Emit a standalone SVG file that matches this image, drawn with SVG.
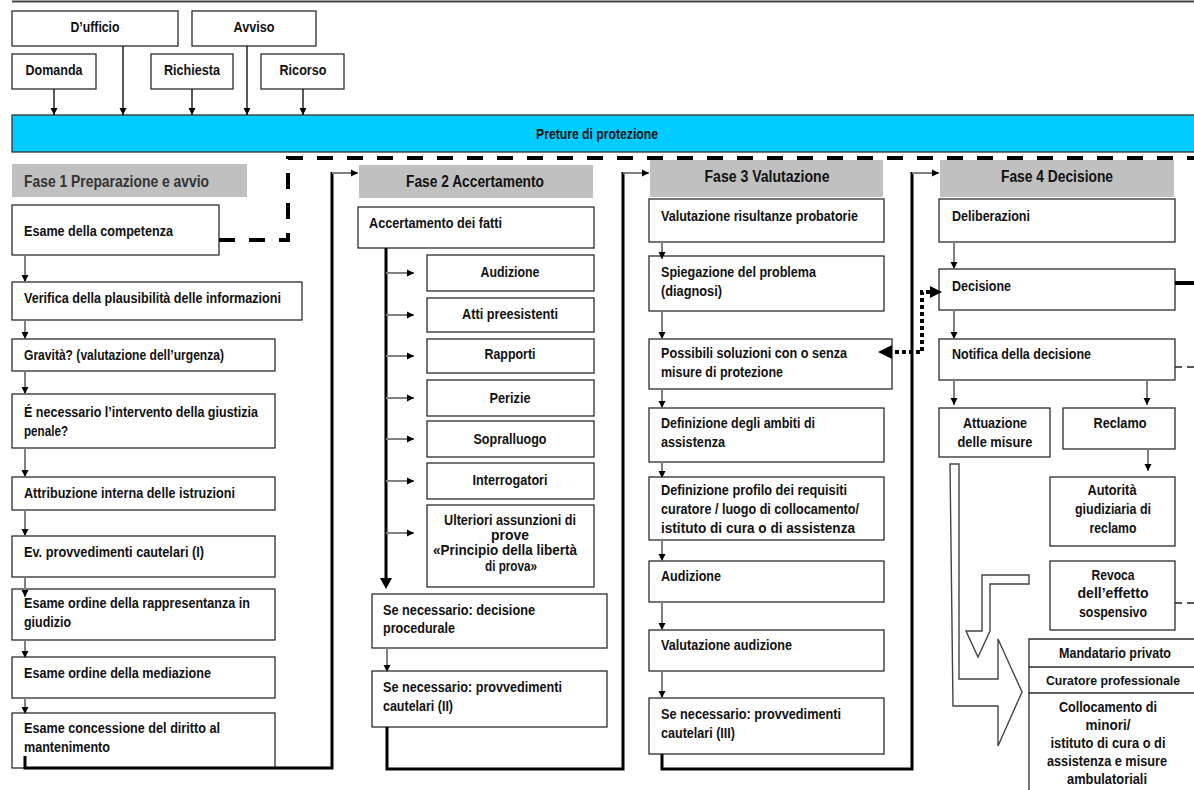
<svg xmlns="http://www.w3.org/2000/svg" width="1194" height="790" viewBox="0 0 1194 790">
<defs>
<marker id="ah" markerUnits="userSpaceOnUse" markerWidth="8" markerHeight="8" refX="7" refY="4" orient="auto"><path d="M0,0.5 L7,4 L0,7.5 z" fill="#000"/></marker>
<style>
.b{fill:#fff;stroke:#2b2b2b;stroke-width:1.3}
.ob{fill:none;stroke:#2b2b2b;stroke-width:1.3}
.h{fill:#c0c0c0}
text{font-family:"Liberation Sans Narrow","Liberation Sans",Arial,sans-serif;font-weight:bold;font-size:14.5px;fill:#111}
.hd{font-size:16px}
.c{text-anchor:middle}
.ga{stroke:#808080;stroke-width:2;fill:none;marker-end:url(#ah)}
.ka{stroke:#000;stroke-width:1.3;fill:none;marker-end:url(#ah)}
.thick{stroke:#000;stroke-width:3;fill:none}
.open{fill:#fff;stroke:#444;stroke-width:1.4}
</style>
</defs>
<rect width="1194" height="790" fill="#fff"/>
<line x1="12" y1="1.5" x2="1194" y2="1.5" stroke="#444" stroke-width="2"/>

<g id="sources">
<g id="n-dufficio"><rect class="b" x="12" y="11" width="166" height="35"/><text class="c" x="95" y="32" textLength="49" lengthAdjust="spacingAndGlyphs">D’ufficio</text></g>
<g id="n-avviso"><rect class="b" x="192" y="11" width="124" height="35"/><text class="c" x="254" y="32" textLength="41" lengthAdjust="spacingAndGlyphs">Avviso</text></g>
<g id="n-domanda"><rect class="b" x="12" y="54" width="84" height="35"/><text class="c" x="54" y="75" textLength="57" lengthAdjust="spacingAndGlyphs">Domanda</text></g>
<g id="n-richiesta"><rect class="b" x="151" y="54" width="82" height="35"/><text class="c" x="192" y="75" textLength="56" lengthAdjust="spacingAndGlyphs">Richiesta</text></g>
<g id="n-ricorso"><rect class="b" x="261" y="54" width="83" height="35"/><text class="c" x="303" y="75" textLength="47" lengthAdjust="spacingAndGlyphs">Ricorso</text></g>
</g>

<g id="n-preture"><rect x="12" y="115" width="1186" height="37" fill="#00ccff" stroke="#333" stroke-width="1.3"/><text class="c" x="597" y="139" textLength="122" lengthAdjust="spacingAndGlyphs">Preture di protezione</text></g>

<g id="fase1">
<g id="h-fase1"><rect class="h" x="12" y="164" width="235" height="33"/><text class="hd" x="24" y="187" textLength="185" lengthAdjust="spacingAndGlyphs" style="fill:#333">Fase 1 Preparazione e avvio</text></g>
<g id="n-competenza"><rect class="b" x="12" y="205" width="207" height="50"/><text x="24" y="236" textLength="149" lengthAdjust="spacingAndGlyphs">Esame della competenza</text></g>
<g id="n-verifica"><rect class="b" x="12" y="282" width="290" height="38"/><text x="24" y="303" textLength="257" lengthAdjust="spacingAndGlyphs">Verifica della plausibilità delle informazioni</text></g>
<g id="n-gravita"><rect class="b" x="12" y="339" width="263" height="32"/><text x="24" y="360" textLength="200" lengthAdjust="spacingAndGlyphs">Gravità? (valutazione dell’urgenza)</text></g>
<g id="n-penale"><rect class="b" x="12" y="394" width="263" height="54"/><text x="24" y="417" textLength="234" lengthAdjust="spacingAndGlyphs">É necessario l’intervento della giustizia</text><text x="24" y="436" textLength="44" lengthAdjust="spacingAndGlyphs">penale?</text></g>
<g id="n-attribuzione"><rect class="b" x="12" y="477" width="263" height="33"/><text x="24" y="498" textLength="211" lengthAdjust="spacingAndGlyphs">Attribuzione interna delle istruzioni</text></g>
<g id="n-cautelari1"><rect class="b" x="12" y="536" width="263" height="41"/><text x="24" y="557" textLength="180" lengthAdjust="spacingAndGlyphs">Ev. provvedimenti cautelari (I)</text></g>
<g id="n-rappresentanza"><rect class="b" x="12" y="589" width="263" height="51"/><text x="24" y="608" textLength="226" lengthAdjust="spacingAndGlyphs">Esame ordine della rappresentanza in</text><text x="24" y="627" textLength="47" lengthAdjust="spacingAndGlyphs">giudizio</text></g>
<g id="n-mediazione"><rect class="b" x="12" y="657" width="263" height="41"/><text x="24" y="678" textLength="187" lengthAdjust="spacingAndGlyphs">Esame ordine della mediazione</text></g>
<g id="n-mantenimento"><rect class="b" x="12" y="713" width="263" height="55"/><text x="24" y="733" textLength="196" lengthAdjust="spacingAndGlyphs">Esame concessione del diritto al</text><text x="24" y="752" textLength="86" lengthAdjust="spacingAndGlyphs">mantenimento</text></g>
</g>

<g id="fase2">
<g id="h-fase2"><rect class="h" x="359" y="165" width="234" height="33"/><text class="hd c" x="475" y="187" textLength="138" lengthAdjust="spacingAndGlyphs">Fase 2 Accertamento</text></g>
<g id="n-accertamento"><rect class="b" x="358" y="207" width="236" height="41"/><text x="369" y="228" textLength="133" lengthAdjust="spacingAndGlyphs">Accertamento dei fatti</text></g>
<g id="n-audizione2"><rect class="b" x="427" y="255" width="167" height="36"/><text class="c" x="510" y="277" textLength="59" lengthAdjust="spacingAndGlyphs">Audizione</text></g>
<g id="n-atti"><rect class="b" x="427" y="298" width="167" height="34"/><text class="c" x="510" y="319" textLength="96" lengthAdjust="spacingAndGlyphs">Atti preesistenti</text></g>
<g id="n-rapporti"><rect class="b" x="427" y="339" width="167" height="34"/><text class="c" x="510" y="359" textLength="51" lengthAdjust="spacingAndGlyphs">Rapporti</text></g>
<g id="n-perizie"><rect class="b" x="427" y="380" width="167" height="36"/><text class="c" x="510" y="403" textLength="41" lengthAdjust="spacingAndGlyphs">Perizie</text></g>
<g id="n-sopralluogo"><rect class="b" x="427" y="421" width="167" height="36"/><text class="c" x="510" y="444" textLength="73" lengthAdjust="spacingAndGlyphs">Sopralluogo</text></g>
<g id="n-interrogatori"><rect class="b" x="427" y="463" width="167" height="36"/><text class="c" x="510" y="485" textLength="75" lengthAdjust="spacingAndGlyphs">Interrogatori</text></g>
<g id="n-ulteriori"><rect class="b" x="427" y="505" width="167" height="82"/><text class="c" x="510" y="525" textLength="132" lengthAdjust="spacingAndGlyphs">Ulteriori assunzioni di</text><text class="c" x="510" y="540" textLength="38" lengthAdjust="spacingAndGlyphs">prove</text><text class="c" x="505" y="555" textLength="144" lengthAdjust="spacingAndGlyphs">«Principio della libertà</text><text class="c" x="511" y="571" textLength="52" lengthAdjust="spacingAndGlyphs">di prova»</text></g>
<g id="n-procedurale"><rect class="b" x="372" y="594" width="235" height="54"/><text x="383" y="615" textLength="152" lengthAdjust="spacingAndGlyphs">Se necessario: decisione</text><text x="383" y="633" textLength="72" lengthAdjust="spacingAndGlyphs">procedurale</text></g>
<g id="n-cautelari2"><rect class="b" x="372" y="671" width="235" height="56"/><text x="383" y="692" textLength="179" lengthAdjust="spacingAndGlyphs">Se necessario: provvedimenti</text><text x="383" y="711" textLength="70" lengthAdjust="spacingAndGlyphs">cautelari (II)</text></g>
</g>

<g id="fase3">
<g id="h-fase3"><rect class="h" x="650" y="160" width="233" height="37"/><text class="hd c" x="767" y="182" textLength="125" lengthAdjust="spacingAndGlyphs">Fase 3 Valutazione</text></g>
<g id="n-risultanze"><rect class="b" x="649" y="199" width="235" height="43"/><text x="661" y="221" textLength="197" lengthAdjust="spacingAndGlyphs">Valutazione risultanze probatorie</text></g>
<g id="n-spiegazione"><rect class="b" x="649" y="256" width="235" height="55"/><text x="661" y="277" textLength="155" lengthAdjust="spacingAndGlyphs">Spiegazione del problema</text><text x="661" y="296" textLength="61" lengthAdjust="spacingAndGlyphs">(diagnosi)</text></g>
<g id="n-soluzioni"><rect class="b" x="649" y="339" width="243" height="50"/><text x="661" y="358" textLength="186" lengthAdjust="spacingAndGlyphs">Possibili soluzioni con o senza</text><text x="661" y="377" textLength="122" lengthAdjust="spacingAndGlyphs">misure di protezione</text></g>
<g id="n-ambiti"><rect class="b" x="649" y="408" width="235" height="54"/><text x="661" y="428" textLength="154" lengthAdjust="spacingAndGlyphs">Definizione degli ambiti di</text><text x="661" y="447" textLength="64" lengthAdjust="spacingAndGlyphs">assistenza</text></g>
<g id="n-profilo"><rect class="b" x="649" y="477" width="235" height="63"/><text x="661" y="495" textLength="186" lengthAdjust="spacingAndGlyphs">Definizione profilo dei requisiti</text><text x="661" y="514" textLength="198" lengthAdjust="spacingAndGlyphs">curatore / luogo di collocamento/</text><text x="661" y="533" textLength="194" lengthAdjust="spacingAndGlyphs">istituto di cura o di assistenza</text></g>
<g id="n-audizione3"><rect class="b" x="649" y="561" width="235" height="41"/><text x="661" y="581" textLength="60" lengthAdjust="spacingAndGlyphs">Audizione</text></g>
<g id="n-valaudizione"><rect class="b" x="649" y="630" width="235" height="41"/><text x="661" y="650" textLength="131" lengthAdjust="spacingAndGlyphs">Valutazione audizione</text></g>
<g id="n-cautelari3"><rect class="b" x="649" y="698" width="235" height="56"/><text x="661" y="719" textLength="180" lengthAdjust="spacingAndGlyphs">Se necessario: provvedimenti</text><text x="661" y="738" textLength="74" lengthAdjust="spacingAndGlyphs">cautelari (III)</text></g>
</g>

<g id="fase4">
<g id="h-fase4"><rect class="h" x="940" y="160" width="234" height="37"/><text class="hd c" x="1057" y="182" textLength="112" lengthAdjust="spacingAndGlyphs">Fase 4 Decisione</text></g>
<g id="n-deliberazioni"><rect class="b" x="939" y="199" width="236" height="43"/><text x="952" y="221" textLength="78" lengthAdjust="spacingAndGlyphs">Deliberazioni</text></g>
<g id="n-decisione"><rect class="b" x="939" y="269" width="236" height="41"/><text x="952" y="291" textLength="59" lengthAdjust="spacingAndGlyphs">Decisione</text></g>
<g id="n-notifica"><rect class="b" x="939" y="339" width="236" height="41"/><text x="952" y="359" textLength="139" lengthAdjust="spacingAndGlyphs">Notifica della decisione</text></g>
<g id="n-attuazione"><rect class="b" x="939" y="408" width="111" height="49"/><text class="c" x="995" y="428" textLength="64" lengthAdjust="spacingAndGlyphs">Attuazione</text><text class="c" x="995" y="447" textLength="75" lengthAdjust="spacingAndGlyphs">delle misure</text></g>
<g id="n-reclamo"><rect class="b" x="1063" y="408" width="112" height="41"/><text class="c" x="1120" y="428" textLength="53" lengthAdjust="spacingAndGlyphs">Reclamo</text></g>
<g id="n-autorita"><rect class="b" x="1050" y="477" width="125" height="69"/><text class="c" x="1112" y="495" textLength="49" lengthAdjust="spacingAndGlyphs">Autorità</text><text class="c" x="1113" y="514" textLength="76" lengthAdjust="spacingAndGlyphs">giudiziaria di</text><text class="c" x="1113" y="533" textLength="47" lengthAdjust="spacingAndGlyphs">reclamo</text></g>
<g id="n-revoca"><rect class="b" x="1050" y="561" width="125" height="69"/><text class="c" x="1113" y="580" textLength="43" lengthAdjust="spacingAndGlyphs">Revoca</text><text class="c" x="1113" y="598" textLength="71" lengthAdjust="spacingAndGlyphs">dell’effetto</text><text class="c" x="1113" y="617" textLength="68" lengthAdjust="spacingAndGlyphs">sospensivo</text></g>
<g id="n-mandatario"><path class="ob" d="M1194,639 H1029 V667 H1194"/><text class="c" x="1115" y="658" textLength="112" lengthAdjust="spacingAndGlyphs">Mandatario privato</text></g>
<g id="n-curatore"><path class="ob" d="M1029,667 V693 H1194"/><text class="c" x="1113" y="685" textLength="134" lengthAdjust="spacingAndGlyphs" style="font-size:12.5px">Curatore professionale</text></g>
<g id="n-collocamento"><path class="ob" d="M1029,693 V790"/><text class="c" x="1108" y="712" textLength="98" lengthAdjust="spacingAndGlyphs">Collocamento di</text><text class="c" x="1108" y="730" textLength="45" lengthAdjust="spacingAndGlyphs">minori/</text><text class="c" x="1108" y="748" textLength="115" lengthAdjust="spacingAndGlyphs">istituto di cura o di</text><text class="c" x="1107" y="766" textLength="120" lengthAdjust="spacingAndGlyphs">assistenza e misure</text><text class="c" x="1107" y="784" textLength="80" lengthAdjust="spacingAndGlyphs">ambulatoriali</text></g>
</g>

<g id="connectors">
<path class="ka" d="M54,89 V115"/>
<path class="ka" d="M123,46 V115"/>
<path class="ka" d="M192,89 V115"/>
<path class="ka" d="M247,46 V115"/>
<path class="ka" d="M303,89 V115"/>
<path d="M219,240 H288 V158 H1196" fill="none" stroke="#000" stroke-width="4" stroke-dasharray="16 14"/>
<path class="ga" d="M25,255 V282"/>
<path class="ga" d="M25,320 V339"/>
<path class="ga" d="M25,371 V394"/>
<path class="ga" d="M25,448 V477"/>
<path class="ga" d="M25,510 V536"/>
<path class="ga" d="M25,577 V597"/>
<path class="ga" d="M25,640 V658"/>
<path class="ga" d="M25,698 V714"/>
<path class="thick" d="M25,756 V768 H332 V172"/>
<path class="ga" d="M332,173 H358"/>
<path d="M386,248 V579" stroke="#000" stroke-width="3" fill="none"/>
<path d="M380,578 L392,578 L386,589 z" fill="#000"/>
<path class="ga" d="M386,273 H414"/>
<path class="ga" d="M386,315 H414"/>
<path class="ga" d="M386,356 H414"/>
<path class="ga" d="M386,398 H414"/>
<path class="ga" d="M386,439 H414"/>
<path class="ga" d="M386,481 H414"/>
<path class="ga" d="M386,533 H414"/>
<path class="ga" d="M387,648 V672"/>
<path class="thick" d="M387,727 V769 H623 V172"/>
<path class="ga" d="M623,173 H649"/>
<path class="ga" d="M662,242 V259"/>
<path class="ga" d="M662,311 V339"/>
<path class="ga" d="M662,389 V408"/>
<path class="ga" d="M662,462 V478"/>
<path class="ga" d="M662,540 V561"/>
<path class="ga" d="M662,602 V630"/>
<path class="ga" d="M662,671 V698"/>
<path class="thick" d="M662,754 V769 H912 V172"/>
<path class="ga" d="M912,173 H939"/>
<path d="M930,292 H922 V352 H891" fill="none" stroke="#000" stroke-width="4" stroke-dasharray="4 3"/>
<path d="M930,286 L942,292 L930,298 z" fill="#000"/>
<path d="M892,345 L878,352 L892,359 z" fill="#000"/>
<path class="ga" d="M954,242 V269"/>
<path class="ga" d="M954,310 V339"/>
<path class="ga" d="M954,380 V405"/>
<path class="ga" d="M1147,380 V405"/>
<path class="ga" d="M1148,449 V471"/>
<path d="M1175,283 H1196" stroke="#000" stroke-width="4"/>
<path d="M1175,367 H1196" stroke="#222" stroke-width="1.5" stroke-dasharray="7 5"/>
<path d="M1175,603 H1196" stroke="#222" stroke-width="1.5" stroke-dasharray="7 5"/>
<polygon class="open" points="950,464 959,464 959,679 998,679 998,639 1022,692 998,746 998,706 953,706"/>
<polygon class="open" points="1029,575 982,575 982,631 966,631 978,657 990,631 990,584 1029,584"/>
</g>
</svg>
